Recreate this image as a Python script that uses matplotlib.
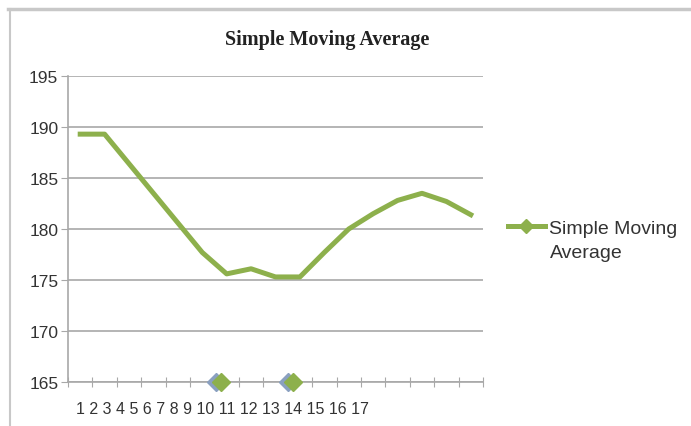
import matplotlib.pyplot as plt
from matplotlib.lines import Line2D

# Simple moving average per period
periods = list(range(1, 18))
sma = [189.3, 189.3, 186.4, 183.5, 180.6, 177.7, 175.6, 176.1, 175.3,
       175.3, 177.7, 180.0, 181.5, 182.8, 183.5, 182.7, 181.4]
tick_labels = [str(p) for p in periods]

# crossover signals sitting on the bottom of the axis
signal_x = [6.75, 9.7]
signal_shadow_x = [6.55, 9.5]
signal_y = [165, 165]

green = '#8db04c'
grid_gray = '#a8a8a8'
text_col = '#333333'

fig = plt.figure(figsize=(6.91, 4.27), dpi=100)
ax = fig.add_axes([68 / 691, 44 / 427, 415 / 691, 306 / 427])

ax.plot(periods, sma, color=green, lw=3.6, solid_joinstyle='round')
ax.plot(signal_shadow_x, signal_y, ls='none', marker='D', ms=9.5,
        color='#8aa0c0', clip_on=False, zorder=4)
ax.plot(signal_x, signal_y, ls='none', marker='D', ms=9.5,
        color=green, clip_on=False, zorder=5)

ax.set_xlim(0.5, 17.5)
ax.set_ylim(165, 195)
ax.set_yticks(range(165, 196, 5))
ax.set_xticks([p - 0.5 for p in periods] + [17.5])
ax.set_xticklabels([])
ax.yaxis.grid(True, color=grid_gray, lw=1.2)
ax.set_axisbelow(True)

for side in ['top', 'right']:
    ax.spines[side].set_visible(False)
for side in ['left', 'bottom']:
    ax.spines[side].set_color(grid_gray)
    ax.spines[side].set_linewidth(1.2)
ax.tick_params(axis='y', colors=grid_gray, length=5, pad=2,
               labelcolor=text_col, labelsize=12.5,
               labelfontfamily='Liberation Sans')
ax.tick_params(axis='x', colors=grid_gray, direction='inout', length=7)

# category labels run together from the left edge
fig.text(76 / 691, 1 - 410 / 427, ' '.join(tick_labels), fontsize=11.5,
         family='Liberation Sans', color=text_col, va='center', ha='left')

fig.text(327 / 691, 1 - 40 / 427, 'Simple Moving Average', fontsize=14.5,
         family='Liberation Serif', weight='bold', color='#222222',
         ha='center', va='center')

# legend, label wrapped over two lines
handle = Line2D([], [], color=green, lw=3.6, marker='D', ms=7)
leg = fig.legend([handle], ['Simple Moving'], loc='center left',
                 bbox_to_anchor=(508 / 691, 1 - 229 / 427), frameon=False,
                 borderpad=0, borderaxespad=0,
                 handlelength=1.9, handletextpad=0.2,
                 prop={'family': 'Liberation Sans', 'size': 14})
for t in leg.get_texts():
    t.set_color(text_col)
fig.text(550 / 691, 1 - 254 / 427, 'Average', fontsize=14,
         family='Liberation Sans', color=text_col, va='center', ha='left')

# outer chart border
fig.add_artist(Line2D([8 / 691, 1], [1 - 10 / 427, 1 - 10 / 427],
                      color='#c8c8c8', lw=2.5))
fig.add_artist(Line2D([10 / 691, 10 / 691], [0, 1 - 10 / 427],
                      color='#c8c8c8', lw=1.5))

fig.savefig('out.png', dpi=100)
